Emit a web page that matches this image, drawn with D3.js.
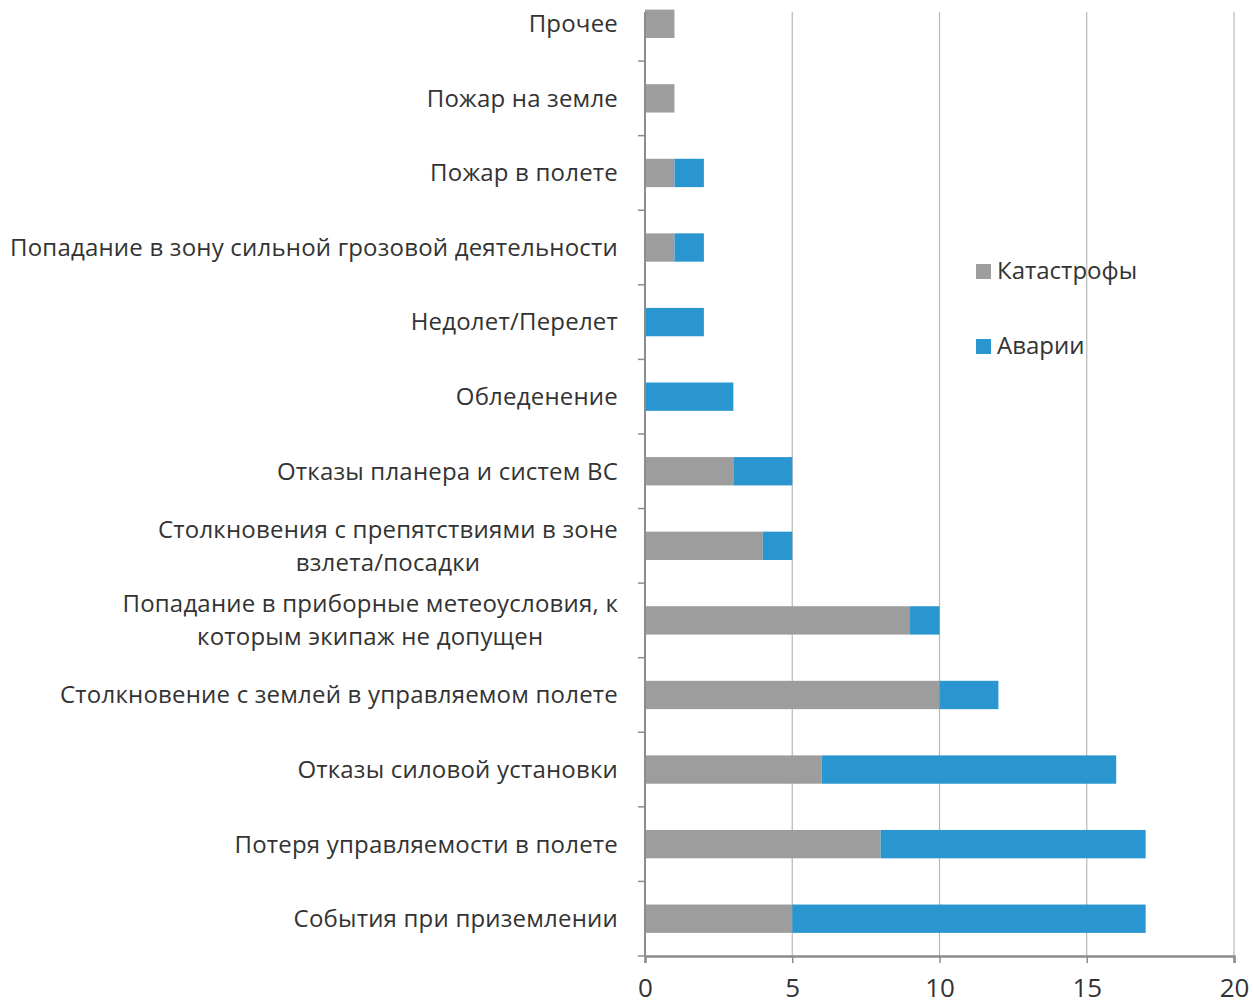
<!DOCTYPE html>
<html>
<head>
<meta charset="utf-8">
<script src="https://cdn.jsdelivr.net/npm/d3@7"></script>
<style>
  html, body { margin: 0; padding: 0; background: #fff; }
  svg { display: block; font-family: "Open Sans", "Noto Sans", sans-serif; }
</style>
</head>
<body>
<svg id="chart" width="1253" height="1005"></svg>
<script>
// Data (top to bottom as in the picture)
const categories = [
  "Прочее",
  "Пожар на земле",
  "Пожар в полете",
  "Попадание в зону сильной грозовой деятельности",
  "Недолет/Перелет",
  "Обледенение",
  "Отказы планера и систем ВС",
  "Столкновения с препятствиями в зоне\nвзлета/посадки",
  "Попадание в приборные метеоусловия, к\nкоторым экипаж не допущен",
  "Столкновение с землей в управляемом полете",
  "Отказы силовой установки",
  "Потеря управляемости в полете",
  "События при приземлении"
];
const catastrophes = [1, 1, 1, 1, 0, 0, 3, 4, 9, 10, 6, 8, 5];
const accidents    = [0, 0, 1, 1, 2, 3, 2, 1, 1, 2, 10, 9, 12];
const seriesNames = ["Катастрофы", "Аварии"];
const xTicks = [0, 5, 10, 15, 20];

const COLORS = { gray: "#9d9d9d", blue: "#2a96d0", grid: "#b8b8b8", axis: "#8c8c8c", text: "#333333" };

const svg = d3.select("#chart");
const plot = { left: 645, right: 1234, top: -13.5, bottom: 956 };

const x = d3.scaleLinear().domain([0, 20]).range([plot.left, plot.right]);
const y = d3.scaleBand().domain(categories).range([plot.top, plot.bottom]).paddingInner(0.62).paddingOuter(0.31);

// Gridlines
svg.append("g").selectAll("line")
  .data(xTicks.filter(d => d > 0)).enter().append("line")
  .attr("x1", d => x(d)).attr("x2", d => x(d))
  .attr("y1", 12).attr("y2", plot.bottom)
  .attr("stroke", COLORS.grid).attr("stroke-width", 1.2);

// Stacked bars
const rows = categories.map((c, i) => ({ cat: c, a: catastrophes[i], b: accidents[i] }));
const stack = d3.stack().keys(["a", "b"])(rows);
const fills = [COLORS.gray, COLORS.blue];

svg.append("g").selectAll("g")
  .data(stack).enter().append("g")
  .attr("fill", (d, i) => fills[i])
  .selectAll("rect")
  .data(d => d).enter().append("rect")
  .attr("x", d => x(d[0]))
  .attr("width", d => x(d[1]) - x(d[0]))
  .attr("y", d => y(d.data.cat))
  .attr("height", y.bandwidth());

// Y axis line and ticks at band boundaries
svg.append("line")
  .attr("x1", plot.left).attr("x2", plot.left)
  .attr("y1", 12).attr("y2", plot.bottom)
  .attr("stroke", COLORS.axis).attr("stroke-width", 2);

const step = y.step();
svg.append("g").selectAll("line")
  .data(d3.range(1, categories.length + 1)).enter().append("line")
  .attr("x1", plot.left - 7).attr("x2", plot.left)
  .attr("y1", i => plot.top + i * step).attr("y2", i => plot.top + i * step)
  .attr("stroke", COLORS.axis).attr("stroke-width", 1.5);

// X axis
const xAxis = svg.append("g")
  .attr("transform", `translate(0,${plot.bottom})`)
  .call(d3.axisBottom(x).tickValues(xTicks).tickSize(7));
xAxis.select(".domain").attr("stroke", COLORS.axis).attr("stroke-width", 2.5);
xAxis.selectAll(".tick line").attr("stroke", COLORS.axis).attr("stroke-width", 1.5);
xAxis.selectAll(".tick text")
  .attr("y", 41).attr("dy", null)
  .attr("fill", COLORS.text)
  .style("font-size", "26px")
  .style("font-family", "\"Open Sans\", sans-serif");

// Category labels (right aligned block, wrapped lines centred as in Excel)
const labelRight = 618;
const labels = svg.append("g")
  .style("font-size", "24px")
  .style("letter-spacing", "0.2px")
  .attr("fill", COLORS.text);
categories.forEach(c => {
  const lines = c.split("\n");
  const cy = y(c) + y.bandwidth() / 2;
  const lh = 33;
  const g = labels.append("g");
  const texts = lines.map((ln, k) => g.append("text")
    .attr("y", cy + (k - (lines.length - 1) / 2) * lh)
    .attr("dy", "0.35em")
    .text(ln));
  if (lines.length === 1) {
    texts[0].attr("x", labelRight).attr("text-anchor", "end");
  } else {
    const maxW = d3.max(texts, t => t.node().getComputedTextLength());
    const cx = labelRight - maxW / 2;
    texts.forEach(t => t.attr("x", cx).attr("text-anchor", "middle"));
  }
});

// Legend
const legend = svg.append("g").attr("transform", "translate(976,0)");
seriesNames.forEach((name, i) => {
  const ly = 271 + i * 75;
  legend.append("rect")
    .attr("x", 0).attr("y", ly - 7).attr("width", 15).attr("height", 15)
    .attr("fill", fills[i]);
  legend.append("text")
    .attr("x", 21).attr("y", ly).attr("dy", "0.35em")
    .attr("fill", COLORS.text)
    .style("font-size", "24px")
    .text(name);
});
</script>
</body>
</html>
